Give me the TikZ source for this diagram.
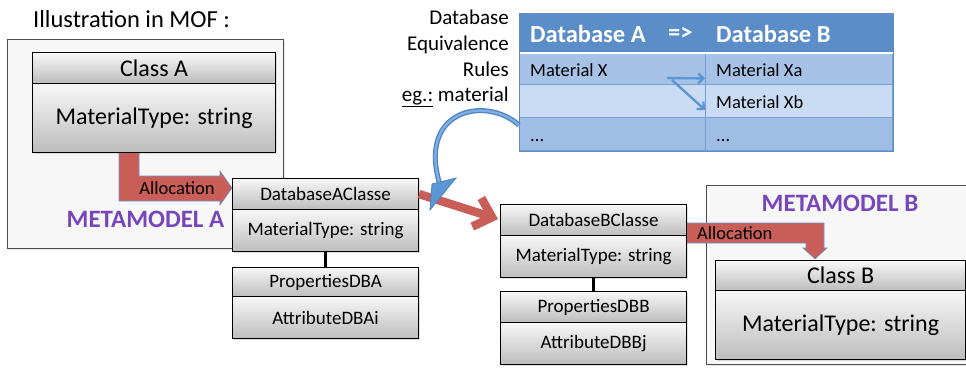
\documentclass[tikz,border=0pt]{standalone}
\usepackage{fontspec}
\setmainfont{Carlito}
\usetikzlibrary{arrows.meta,calc,shadows}
\definecolor{allocred}{RGB}{201,94,88}
\definecolor{allocedge}{RGB}{110,150,200}
\definecolor{metapurple}{RGB}{118,70,186}
\definecolor{thead}{RGB}{91,141,200}
\definecolor{rowA}{RGB}{166,194,230}
\definecolor{rowB}{RGB}{201,220,244}
\definecolor{rowC}{RGB}{160,189,229}
\definecolor{tline}{RGB}{118,158,212}
\definecolor{tborder}{RGB}{96,140,196}
\definecolor{curveblue}{RGB}{92,150,212}
\definecolor{curvedark}{RGB}{79,129,195}
\definecolor{curvelight}{RGB}{125,175,228}
\tikzset{
  umlbox/.style={draw=black, line width=1.1pt, rectangle, inner sep=0pt, anchor=north west,
    top color=black!3, bottom color=black!26,
    drop shadow={opacity=0.25, shadow xshift=1.5pt, shadow yshift=-1.5pt}},
  bigtxt/.style={font=\fontsize{24}{28}\selectfont},
  smalltxt/.style={font=\fontsize{19}{22}\selectfont},
  frame/.style={draw=black!70, line width=0.9pt, fill=black!3, anchor=north west, inner sep=0pt,
    drop shadow={opacity=0.2, shadow xshift=1.5pt, shadow yshift=-1.5pt}},
  allocshape/.style={fill=allocred, draw=allocedge, line width=0.6pt},
  alloctxt/.style={font=\fontsize{18.5}{21}\selectfont, inner sep=0pt},
  metatxt/.style={font=\fontsize{25}{29}\selectfont\bfseries, text=metapurple, inner sep=0pt},
  cell/.style={draw=tline, line width=0.8pt, anchor=north west, inner sep=0pt},
  thtxt/.style={font=\fontsize{24.5}{28}\selectfont\bfseries, text=white, inner sep=0pt},
  rowtxt/.style={font=\fontsize{18.5}{21}\selectfont, inner sep=0pt},
  sidetxt/.style={font=\fontsize{21}{25}\selectfont, inner sep=0pt, anchor=base east},
  conn/.style={line width=2.6pt, black},
  redconn/.style={draw=allocred, line width=8.5pt, -{Straight Barb[length=16pt,width=30pt]}},
  curveout/.style={draw=curvedark, line width=5pt},
  curvein/.style={draw=curvelight, line width=2.4pt},
  curvehead/.style={fill=curveblue, draw=curvedark, line width=0.8pt, line join=miter},
  tarrow/.style={draw=curveblue, line width=2.4pt, -{Straight Barb[length=5pt,width=10pt]}}
}
\begin{document}
\begin{tikzpicture}[x=1pt,y=-1pt]
\useasboundingbox (0,0) rectangle (966,367);
\clip (0,0) rectangle (966,367);

% title
\node[font=\fontsize{24.5}{28}\selectfont, anchor=base west, inner sep=0pt] (title) at (33,27) {Illustration in MOF :};

% frames
\node[frame, minimum width=276, minimum height=209] (frameA) at (7,39) {};
\node[frame, minimum width=275, minimum height=179] (frameB) at (706,185) {};

% allocation A shape
\fill[allocshape] (119,152) -- (139,152) -- (139,176) -- (220,176) -- (220,171) -- (232,188) -- (220,205) -- (220,201) -- (119,201) -- cycle;

% Class A
\node[umlbox, bigtxt, minimum width=243, minimum height=31] (cah) at (32,52) {Class A};
\node[umlbox, bigtxt, minimum width=243, minimum height=69] (cab) at (32,83) {MaterialType: string};

\node[alloctxt] (alA) at (177,188) {Allocation};
\node[metatxt] (metaA) at (145.5,219) {METAMODEL A};

% Database A classes
\node[umlbox, smalltxt, minimum width=186, minimum height=31] (dbah) at (232,178) {DatabaseAClasse};
\node[umlbox, smalltxt, minimum width=186, minimum height=42] (dbab) at (232,209) {MaterialType: string};
\node[umlbox, smalltxt, minimum width=186, minimum height=29] (pa) at (232,267) {PropertiesDBA};
\node[umlbox, smalltxt, minimum width=186, minimum height=42] (aa) at (232,296) {AttributeDBAi};
\draw[conn] (dbab.south) -- (pa.north);

% allocation B shape
\fill[allocshape] (686,223) -- (824,223) -- (824,248) -- (827,248) -- (815,259) -- (803,248) -- (806,248) -- (806,243) -- (686,243) -- cycle;

% Database B classes
\node[umlbox, smalltxt, minimum width=186, minimum height=31] (dbbh) at (500,204) {DatabaseBClasse};
\node[umlbox, smalltxt, minimum width=186, minimum height=42] (dbbb) at (500,235) {MaterialType: string};
\node[umlbox, smalltxt, minimum width=186, minimum height=31] (pb) at (500,291) {PropertiesDBB};
\node[umlbox, smalltxt, minimum width=186, minimum height=42] (ab) at (500,322) {AttributeDBBj};
\draw[conn] (dbbb.south) -- (pb.north);

\node[alloctxt, anchor=west] (alB) at (697,233) {Allocation};
\node[metatxt] (metaB) at (840,203) {METAMODEL B};

% Class B
\node[umlbox, bigtxt, minimum width=250, minimum height=30] (cbh) at (715,260) {Class B};
\node[umlbox, bigtxt, minimum width=250, minimum height=69] (cbb) at (715,290) {MaterialType: string};

% red arrow between database classes
\draw[redconn] (dbah.east) -- ($(dbbh.west)+(-2,-1)$);

% table
\node[draw=tborder, line width=1pt, fill=rowA, anchor=north west, inner sep=0pt, minimum width=373, minimum height=137,
  drop shadow={opacity=0.3, shadow xshift=1.5pt, shadow yshift=-1.5pt}] (tab) at (519,13) {};
\node[cell, fill=thead, draw=tborder, minimum width=373, minimum height=39] (th) at (519,13) {};
\node[cell, fill=rowA, minimum width=186, minimum height=32] (r1a) at (519,52) {};
\node[cell, fill=rowA, minimum width=187, minimum height=32] (r1b) at (705,52) {};
\node[cell, fill=rowB, minimum width=186, minimum height=33] (r2a) at (519,84) {};
\node[cell, fill=rowB, minimum width=187, minimum height=33] (r2b) at (705,84) {};
\node[cell, fill=rowC, minimum width=186, minimum height=33] (r3a) at (519,117) {};
\node[cell, fill=rowC, minimum width=187, minimum height=33] (r3b) at (705,117) {};
\draw[white, line width=1.6pt] (th.south west) -- (th.south east);
\draw[tborder, line width=1pt] (tab.north west) rectangle (tab.south east);

\node[thtxt, anchor=west] (hA) at (530,34) {Database A};
\node[thtxt, anchor=west] (hArr) at (668,34) {=>};
\node[thtxt, anchor=west] (hB) at (716,34) {Database B};
\node[rowtxt, anchor=base west] (mx) at (530,76) {Material X};
\node[rowtxt, anchor=base west] (mxa) at (716,76) {Material Xa};
\node[rowtxt, anchor=base west] (mxb) at (716,108) {Material Xb};
\node[rowtxt, anchor=base west] (dotsA) at (530,141) {...};
\node[rowtxt, anchor=base west] (dotsB) at (716,141) {...};

\coordinate (ts1) at (667,78);
\coordinate (ts2) at (672,80);
\draw[tarrow] (ts1) -- ($(r1b.west)+(0,10)$);
\draw[tarrow] (ts2) -- ($(r2b.west)+(0,9)$);

% side text
\node[sidetxt] (s1) at (509,24) {Database};
\node[sidetxt] (s2) at (509,50) {Equivalence};
\node[sidetxt] (s3) at (509,76) {Rules};
\node[sidetxt] (s4) at (509,101) {\underline{eg.:} material};

% blue curved arrow
\coordinate (cstart) at ($(r3a.north west)+(0,8)$);
\coordinate (cend) at (441,188);
\draw[curveout] (cstart) .. controls (485,95) and (415,110) .. (cend);
\draw[curvein] (cstart) .. controls (485,95) and (415,110) .. (cend);
\fill[curvehead] ($(cend)+(-11,22)$) -- ($(cend)+(15,-10)$) -- ($(cend)+(-9,-4)$) -- cycle;
\end{tikzpicture}
\end{document}
